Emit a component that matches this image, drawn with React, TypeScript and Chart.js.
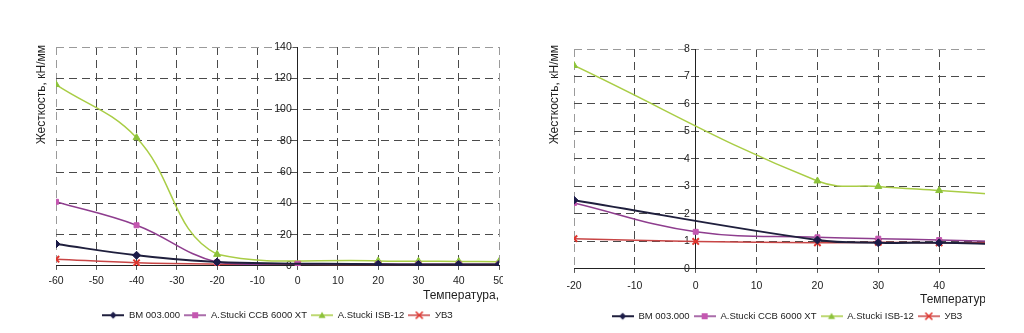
import React, { useEffect, useRef } from 'react';
import { Chart, registerables } from 'chart.js';

Chart.register(...registerables);
Chart.defaults.font.family = '"Liberation Sans", Arial, sans-serif';
Chart.defaults.color = '#1e1e1e';

// ---- data ----
const temperatures = [-60, -40, -20, 0, 20, 30, 40, 50];
const bm003 = [14, 6.8, 2.5, null, 1.05, 0.95, 0.95, 0.9];
const ccb6000 = [41, 26, 2.4, 1.35, 1.15, 1.1, 1.05, 1.0];
const isb12 = [116, 82, 7.4, null, 3.2, 3.0, 2.85, 2.7];
const uvz = [4.3, 2.0, 1.1, 1.0, 0.95, 0.97, 0.95, 0.95];
const seriesNames = ['BM 003.000', 'A.Stucki CCB 6000 XT', 'A.Stucki ISB-12', 'УВЗ'];

const leftXTicks = [-60, -50, -40, -30, -20, -10, 0, 10, 20, 30, 40, 50];
const leftYTicks = [0, 20, 40, 60, 80, 100, 120, 140];
const rightXTicks = [-20, -10, 0, 10, 20, 30, 40, 50];
const rightYTicks = [0, 1, 2, 3, 4, 5, 6, 7, 8];
const rightFirstIndex = 2; // right chart shows data from -20 °C

const yTitle = 'Жесткость, кН/мм';
const xTitle = 'Температура, °С';

// ---- styles ----
const seriesStyles = [
  { line: '#1f1f3d', marker: '#1b1b48', style: 'rectRot', radius: 4, width: 2 },
  { line: '#8e3d8e', marker: '#c457b0', style: 'rect', radius: 3.5, width: 1.5 },
  { line: '#a9cd45', marker: '#8cc23a', style: 'triangle', radius: 4, width: 1.5 },
  { line: '#c84545', marker: '#e0342c', style: 'crossRot', radius: 4.5, width: 1.5 },
];
const seriesValues = [bm003, ccb6000, isb12, uvz];

function makeIcon(s: any) {
  const c = document.createElement('canvas');
  c.width = 22;
  c.height = 10;
  const g = c.getContext('2d')!;
  g.strokeStyle = s.line;
  g.lineWidth = s.width;
  g.beginPath();
  g.moveTo(0, 5);
  g.lineTo(22, 5);
  g.stroke();
  g.fillStyle = s.marker;
  g.strokeStyle = s.marker;
  const cx = 11, cy = 5, r = 3.5;
  g.beginPath();
  if (s.style === 'rectRot') {
    g.moveTo(cx, cy - r); g.lineTo(cx + r, cy); g.lineTo(cx, cy + r); g.lineTo(cx - r, cy); g.closePath(); g.fill();
  } else if (s.style === 'rect') {
    g.rect(cx - 3, cy - 3, 6, 6); g.fill();
  } else if (s.style === 'triangle') {
    g.moveTo(cx, cy - r); g.lineTo(cx + r, cy + r * 0.8); g.lineTo(cx - r, cy + r * 0.8); g.closePath(); g.fill();
  } else {
    g.lineWidth = 1.6;
    g.moveTo(cx - r, cy - r); g.lineTo(cx + r, cy + r); g.moveTo(cx + r, cy - r); g.lineTo(cx - r, cy + r); g.stroke();
  }
  return c;
}

const titlesPlugin = {
  id: 'axisTitles',
  afterDraw(chart: any, _args: any, opts: any) {
    const ctx = chart.ctx;
    ctx.save();
    ctx.fillStyle = '#1e1e1e';
    ctx.textBaseline = 'middle';
    ctx.font = opts.yFont;
    ctx.save();
    ctx.translate(opts.yTitleX, opts.yTitleTop);
    ctx.rotate(-Math.PI / 2);
    ctx.textAlign = 'right';
    ctx.fillText(yTitle, 0, 0);
    ctx.restore();
    ctx.font = opts.xFont;
    ctx.textAlign = 'left';
    ctx.fillText(xTitle, opts.xTitleLeft, opts.xTitleY);
    ctx.restore();
  },
};

function buildConfig(v: any): any {
  const icons = seriesStyles.map(makeIcon);
  const datasets = seriesValues.map((vals, i) => {
    const s = seriesStyles[i];
    const pts = temperatures
      .map((t, k) => ({ x: t, y: vals[k] }))
      .slice(v.firstIndex);
    return {
      label: seriesNames[i],
      data: pts,
      borderColor: s.line,
      borderWidth: s.width,
      backgroundColor: s.marker,
      pointBackgroundColor: s.marker,
      pointBorderColor: s.marker,
      pointBorderWidth: s.style === 'crossRot' ? 2 : 1,
      pointStyle: s.style,
      pointRadius: s.radius,
      tension: 0.4,
      spanGaps: true,
      fill: false,
    };
  });
  const gridColor = (ctx: any) => {
    const ticks = ctx.scale.ticks;
    const first = ticks[0] && ticks[0].value;
    const last = ticks[ticks.length - 1] && ticks[ticks.length - 1].value;
    return ctx.tick && (ctx.tick.value === last || ctx.tick.value === first) ? '#9a9a9a' : '#4a4a4a';
  };
  return {
    type: 'line',
    data: { datasets },
    plugins: [titlesPlugin],
    options: {
      responsive: false,
      animation: false,
      layout: { padding: v.padding },
      scales: {
        x: {
          type: 'linear',
          min: v.xTicks[0],
          max: v.xTicks[v.xTicks.length - 1],
          afterBuildTicks: (s: any) => { s.ticks = v.xTicks.map((t: number) => ({ value: t })); },
          afterFit: (s: any) => { s.height += v.xTitleSpace; },
          ticks: { font: { size: 10.5 }, padding: v.xTickPadding, color: '#222' },
          grid: { color: gridColor, tickLength: 4, tickColor: '#555' },
          border: { display: true, color: '#222', width: 1, dash: [8, 5] },
        },
        y: {
          type: 'linear',
          position: { x: 0 },
          min: v.yTicks[0],
          max: v.yTicks[v.yTicks.length - 1],
          afterBuildTicks: (s: any) => { s.ticks = v.yTicks.map((t: number) => ({ value: t })); },
          ticks: { font: { size: 10.5 }, color: '#222', callback: (val: any) => String(val) + '  ' },
          grid: { color: gridColor, tickLength: 4, tickColor: '#555' },
          border: { display: true, color: '#222', width: 1, dash: [8, 5] },
        },
      },
      plugins: {
        tooltip: { enabled: false },
        legend: {
          position: 'bottom',
          labels: {
            usePointStyle: true,
            pointStyleWidth: 22,
            boxHeight: 10,
            padding: 4,
            font: { size: 9.5 },
            color: '#222',
            generateLabels: (chart: any) => {
              const items = Chart.defaults.plugins.legend.labels.generateLabels(chart);
              items.forEach((it: any, i: number) => { it.pointStyle = icons[i]; });
              return items;
            },
          },
        },
        axisTitles: v.titles,
      },
    },
  };
}

const leftView = {
  firstIndex: 0,
  xTicks: leftXTicks,
  yTicks: leftYTicks,
  padding: { left: 56, right: 61, top: 47, bottom: 3 },
  xTickPadding: 5,
  xTitleSpace: 14,
  titles: { yTitleX: 42, yTitleTop: 45, xTitleLeft: 423, xTitleY: 296, yFont: '12px "Liberation Sans"', xFont: '12px "Liberation Sans"' },
};
const rightView = {
  firstIndex: rightFirstIndex,
  xTicks: rightXTicks,
  yTicks: rightYTicks,
  padding: { left: 54, right: 60, top: 49, bottom: 2 },
  xTickPadding: 7,
  xTitleSpace: 8,
  titles: { yTitleX: 35, yTitleTop: 45, xTitleLeft: 400, xTitleY: 300, yFont: '12px "Liberation Sans"', xFont: '12px "Liberation Sans"' },
};

function StiffnessChart({ view, left, clipWidth, canvasWidth }: any) {
  const ref = useRef<HTMLCanvasElement | null>(null);
  useEffect(() => {
    const chart = new Chart(ref.current!, buildConfig(view));
    return () => chart.destroy();
  }, []);
  return (
    <div style={{ position: 'absolute', left, top: 0, width: clipWidth, height: 333, overflow: 'hidden' }}>
      <canvas ref={ref} width={canvasWidth} height={333} style={{ display: 'block', width: canvasWidth, height: 333 }} />
    </div>
  );
}

export default function App() {
  return (
    <div style={{ position: 'fixed', left: 0, top: 0, width: 1024, height: 333, background: '#fff', overflow: 'hidden' }}>
      <StiffnessChart view={leftView} left={0} clipWidth={503} canvasWidth={560} />
      <StiffnessChart view={rightView} left={520} clipWidth={465} canvasWidth={540} />
    </div>
  );
}
